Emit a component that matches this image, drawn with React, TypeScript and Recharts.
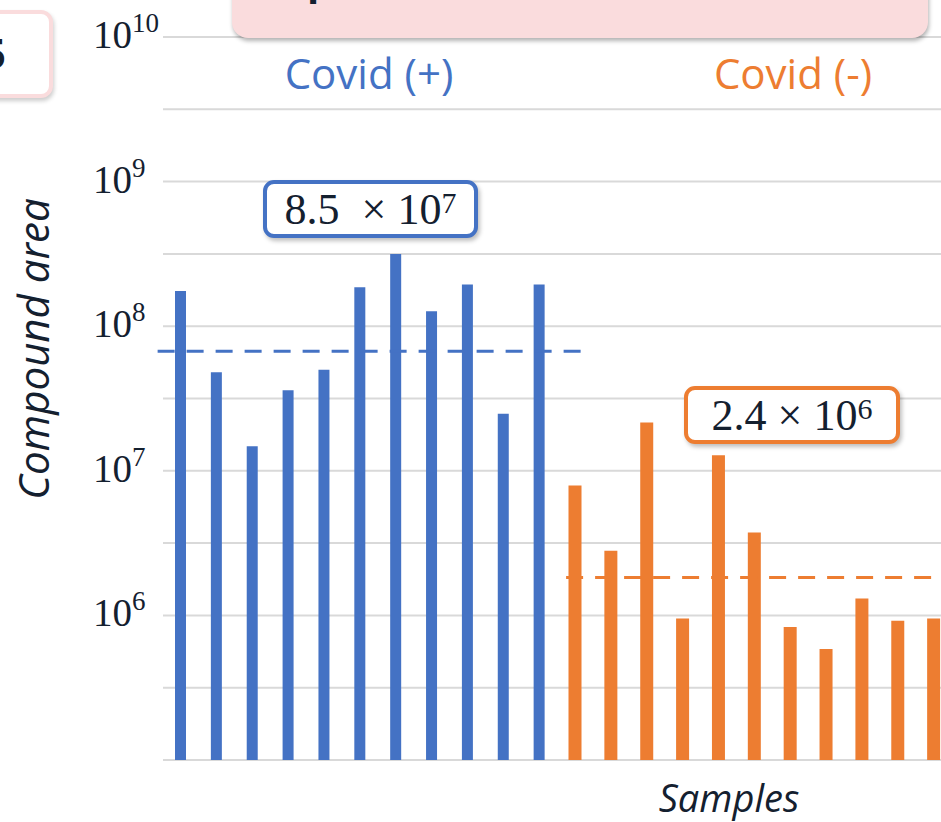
import React from 'react';
import { BarChart, Bar, XAxis, YAxis, CartesianGrid, ReferenceLine } from 'recharts';

// sample ids: 11 Covid(+) then 11 Covid(-)
const positiveSamples = ['P1', 'P2', 'P3', 'P4', 'P5', 'P6', 'P7', 'P8', 'P9', 'P10', 'P11'];
const negativeSamples = ['N1', 'N2', 'N3', 'N4', 'N5', 'N6', 'N7', 'N8', 'N9', 'N10', 'N11'];

// compound area per sample
const positiveArea = [1.75e8, 4.8e7, 1.48e7, 3.6e7, 5.0e7, 1.86e8, 3.16e8, 1.27e8, 1.94e8, 2.48e7, 1.94e8];
const negativeArea = [7.9e6, 2.8e6, 2.16e7, 9.5e5, 1.28e7, 3.75e6, 8.3e5, 5.85e5, 1.31e6, 9.2e5, 9.5e5];

// dashed group levels and their extent in sample-slot units
const positiveLevel = 6.7e7;
const negativeLevel = 1.83e6;
const positiveSpan = [-0.15, 11.7];
const negativeSpan = [11.24, 22];

const Y_TICKS = [1e5, 3.162e5, 1e6, 3.162e6, 1e7, 3.162e7, 1e8, 3.162e8, 1e9, 3.162e9, 1e10];

const BLUE = '#4472C4';
const ORANGE = '#ED7D31';
const INK = '#14202F';
const PINK = '#FADCDD';

const rows = [
  ...positiveSamples.map((s, i) => ({ sample: s, slot: i + 0.5, positive: positiveArea[i], negative: null })),
  ...negativeSamples.map((s, i) => ({ sample: s, slot: i + 11.5, positive: null, negative: negativeArea[i] })),
];

const DecadeTick = (props: any) => {
  const { y, payload } = props;
  const exp = Math.log10(payload.value);
  const whole = Math.round(exp);
  if (Math.abs(exp - whole) > 0.01 || whole < 6) return null;
  return (
    <text x={93} y={y + 11} fill={INK} fontFamily="Liberation Serif" fontSize={39}>
      10
      <tspan dy={-16} fontSize={27}>{whole}</tspan>
    </text>
  );
};

const boxStyle = (color: string): React.CSSProperties => ({
  position: 'absolute',
  boxSizing: 'border-box',
  border: `4px solid ${color}`,
  borderRadius: 11,
  background: '#fff',
  boxShadow: '2px 3px 4px rgba(0,0,0,0.25)',
  display: 'flex',
  alignItems: 'center',
  justifyContent: 'center',
  fontFamily: 'Liberation Serif',
  fontSize: 44,
  color: INK,
  whiteSpace: 'nowrap',
});

const supStyle: React.CSSProperties = { fontSize: 30, position: 'relative', top: -6, lineHeight: 0 };

export default function App() {
  return (
    <div
      style={{
        position: 'fixed',
        left: 0,
        top: 0,
        width: 941,
        height: 822,
        overflow: 'hidden',
        background: '#fff',
      }}
    >
      <div style={{ position: 'absolute', left: 0, top: 0 }}>
        <BarChart
          width={960}
          height={822}
          data={rows}
          margin={{ top: 37, right: 8, bottom: 62, left: 0 }}
          barCategoryGap={0}
        >
          <CartesianGrid xAxisId="ref" vertical={false} stroke="#D9D9D9" strokeWidth={2} />
          <XAxis xAxisId="pos" dataKey="sample" hide />
          <XAxis xAxisId="neg" dataKey="sample" hide />
          <XAxis xAxisId="ref" dataKey="slot" type="number" domain={[0, 22]} allowDataOverflow hide />
          <YAxis
            scale="log"
            domain={[1e5, 1e10]}
            ticks={Y_TICKS}
            interval={0}
            allowDataOverflow
            width={163}
            axisLine={false}
            tickLine={false}
            tick={<DecadeTick />}
          />
          <Bar xAxisId="pos" dataKey="positive" fill={BLUE} barSize={11} isAnimationActive={false} />
          <Bar xAxisId="neg" dataKey="negative" fill={ORANGE} barSize={13} isAnimationActive={false} />
          <ReferenceLine
            xAxisId="ref"
            segment={[
              { x: positiveSpan[0], y: positiveLevel },
              { x: positiveSpan[1], y: positiveLevel },
            ]}
            ifOverflow="visible"
            stroke={BLUE}
            strokeWidth={3}
            strokeDasharray="17 12"
          />
          <ReferenceLine
            xAxisId="ref"
            segment={[
              { x: negativeSpan[0], y: negativeLevel },
              { x: negativeSpan[1], y: negativeLevel },
            ]}
            ifOverflow="visible"
            stroke={ORANGE}
            strokeWidth={3}
            strokeDasharray="17 12"
          />
        </BarChart>
      </div>

      {/* text overlays */}
      <svg width={941} height={822} style={{ position: 'absolute', left: 0, top: 0 }}>
        <text x={369} y={89} textAnchor="middle" fill={BLUE} fontFamily="Open Sans" fontSize={42}>
          Covid (+)
        </text>
        <text x={793} y={89} textAnchor="middle" fill={ORANGE} fontFamily="Open Sans" fontSize={42}>
          Covid (-)
        </text>
        <text
          transform="translate(49 349) rotate(-90)"
          textAnchor="middle"
          fill={INK}
          fontFamily="Open Sans"
          fontStyle="italic"
          fontSize={42}
        >
          Compound area
        </text>
        <text x={729} y={812} textAnchor="middle" fill={INK} fontFamily="Open Sans" fontStyle="italic" fontSize={38}>
          Samples
        </text>
      </svg>

      {/* partial boxes cut by the crop */}
      <div
        style={{
          position: 'absolute',
          left: 232,
          top: -30,
          width: 696,
          height: 68,
          background: PINK,
          borderRadius: 16,
          boxShadow: '1px 3px 4px rgba(0,0,0,0.3)',
          overflow: 'hidden',
        }}
      >
        <span
          style={{
            position: 'absolute',
            left: 75,
            top: -10,
            fontFamily: 'Open Sans',
            fontWeight: 700,
            fontSize: 40,
            color: INK,
            lineHeight: '40px',
          }}
        >
          p
        </span>
      </div>
      <div
        style={{
          position: 'absolute',
          left: -20,
          top: 10,
          width: 73,
          height: 88,
          boxSizing: 'border-box',
          border: `4px solid ${PINK}`,
          borderRadius: 12,
          background: '#fff',
          boxShadow: '1px 3px 4px rgba(0,0,0,0.2)',
          overflow: 'hidden',
        }}
      >
        <span
          style={{
            position: 'absolute',
            right: 43,
            top: 18,
            fontFamily: 'Open Sans',
            fontWeight: 700,
            fontSize: 42,
            color: INK,
            lineHeight: '42px',
          }}
        >
          5
        </span>
      </div>

      {/* mean annotations */}
      <div style={{ ...boxStyle(BLUE), left: 263, top: 180, width: 215, height: 58 }}>
        8.5&nbsp;&nbsp;× 10<sup style={supStyle}>7</sup>
      </div>
      <div style={{ ...boxStyle(ORANGE), left: 684, top: 386, width: 216, height: 58 }}>
        2.4 × 10<sup style={supStyle}>6</sup>
      </div>
    </div>
  );
}
